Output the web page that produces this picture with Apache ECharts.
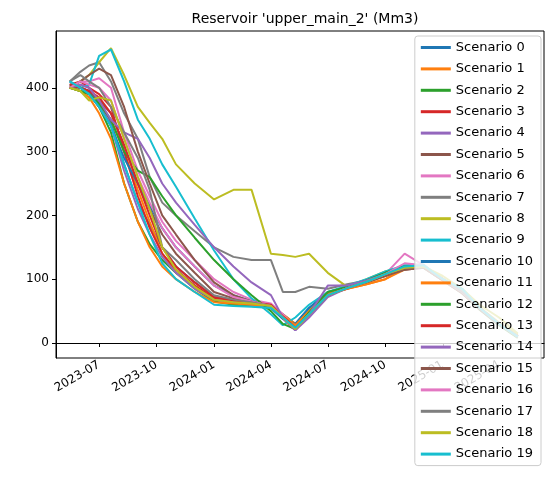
<!DOCTYPE html>
<html><head><meta charset="utf-8">
<script src="https://cdn.jsdelivr.net/npm/echarts@6/dist/echarts.min.js"></script>
<style>html,body{margin:0;padding:0;background:#fff}#c{width:552px;height:478px}</style>
</head><body><div id="c"></div>
<script>
const dates = ["2023-05-15","2023-06-01","2023-06-15","2023-07-01","2023-07-20","2023-08-10","2023-09-01","2023-09-20","2023-10-10","2023-11-01","2023-12-01","2024-01-01","2024-02-01","2024-03-01","2024-04-01","2024-04-20","2024-05-10","2024-06-01","2024-07-01","2024-08-01","2024-09-01","2024-10-01","2024-11-01","2024-12-01","2025-01-01","2025-02-01","2025-03-01","2025-04-01","2025-05-01"];
const s0 = [410,400,395,375,345,280,220,185,150,120,95,72,66,62,58,45,30,55,80,88,98,110,120,120,100,80,55,30,10];
const s1 = [405,400,390,370,350,300,240,190,140,110,90,68,64,62,60,45,30,50,78,85,92,100,115,120,100,80,55,30,10];
const s2 = [400,395,390,370,330,250,190,155,130,110,85,65,60,58,55,40,25,50,78,88,98,110,120,118,98,78,52,28,8];
const s3 = [405,410,400,390,370,300,230,180,140,115,90,70,66,62,58,42,24,45,75,85,95,108,118,120,100,80,55,30,12];
const s4 = [400,405,400,380,340,270,210,170,135,110,85,68,64,60,55,38,20,40,72,86,97,108,118,119,99,79,54,30,11];
const s5 = [400,400,395,380,360,310,250,210,170,140,110,80,70,64,58,40,22,45,75,86,95,105,115,118,98,78,53,29,10];
const s6 = [400,410,410,415,400,330,270,230,190,160,130,100,80,68,62,45,25,45,75,86,96,108,140,122,100,80,55,30,10];
const s7 = [410,425,435,440,410,360,320,260,220,200,175,150,135,130,130,80,80,88,85,92,98,110,120,120,100,80,55,30,10];
const s8 = [400,410,420,440,462,420,370,345,320,280,250,225,240,240,140,138,135,140,110,88,100,112,120,121,101,81,56,32,14];
const s9 = [410,400,405,450,460,410,350,320,280,245,195,145,100,70,45,28,40,60,80,90,100,112,122,123,100,85,55,30,10];
const s10 = [405,400,390,370,340,290,250,215,180,150,120,90,75,65,55,38,30,55,78,88,98,110,120,120,100,80,55,30,10];
const s11 = [400,395,385,360,320,250,190,150,120,100,80,64,62,60,58,42,28,50,78,85,92,100,118,120,100,80,55,30,10];
const s12 = [400,395,390,375,350,300,270,260,230,200,165,130,100,75,50,30,22,48,80,88,98,110,120,120,100,80,55,30,10];
const s13 = [405,400,395,385,360,310,250,200,150,120,95,72,68,64,60,42,24,45,75,86,96,108,118,120,100,80,55,30,10];
const s14 = [400,405,400,380,350,330,320,290,250,220,185,150,120,95,75,40,20,45,90,90,98,108,118,120,100,80,55,30,10];
const s15 = [400,410,420,430,420,370,300,250,200,170,130,95,75,65,58,40,22,45,75,86,95,105,115,118,98,78,53,29,10];
const s16 = [400,410,405,400,380,320,260,220,180,150,120,90,72,65,58,40,22,45,75,86,96,108,125,122,100,80,55,30,10];
const s17 = [410,420,410,400,370,330,290,240,150,130,100,75,68,64,58,40,22,45,75,86,96,108,118,120,100,80,55,30,10];
const s18 = [400,395,380,385,380,320,260,210,150,115,88,68,64,62,58,40,22,45,75,86,96,108,118,120,105,85,60,40,15];
const s19 = [410,400,390,370,340,280,220,170,125,100,80,60,58,57,55,40,24,45,75,86,96,108,120,122,100,85,55,30,10];
const seriesValues = [s0,s1,s2,s3,s4,s5,s6,s7,s8,s9,s10,s11,s12,s13,s14,s15,s16,s17,s18,s19];
const xTicks = ["2023-07-01","2023-10-01","2024-01-01","2024-04-01","2024-07-01","2024-10-01","2025-01-01","2025-04-01"];
const yTicks = [0,100,200,300,400];
const colors = ['#1f77b4','#ff7f0e','#2ca02c','#d62728','#9467bd','#8c564b','#e377c2','#7f7f7f','#bcbd22','#17becf'];
const ts = s => new Date(s+"T00:00:00Z").getTime();
const chart = echarts.init(document.getElementById('c'));
const font = 'DejaVu Sans';
chart.setOption({
  animation:false,
  title:{text:"Reservoir 'upper_main_2' (Mm3)",left:300,top:7,textAlign:'center',textStyle:{fontFamily:font,fontSize:14,fontWeight:'normal',color:'#000'}},
  grid:{left:56,right:8,top:31,bottom:120,show:true,borderColor:'#000',borderWidth:1,backgroundColor:'transparent'},
  xAxis:{type:'value',min:ts("2023-04-23"),max:ts("2025-06-12"),
    axisLine:{show:true,lineStyle:{color:'#000'}},splitLine:{show:false},
    axisTick:{show:true,length:4,customValues:xTicks.map(ts),lineStyle:{color:'#000'}},
    axisLabel:{rotate:30,customValues:xTicks.map(ts),fontFamily:font,fontSize:12,color:'#000',margin:6,
      formatter:v=>{const d=new Date(v);return d.getUTCFullYear()+'-'+String(d.getUTCMonth()+1).padStart(2,'0');}}},
  yAxis:{type:'value',min:-23.5,max:489,
    axisLine:{show:true,lineStyle:{color:'#000'}},splitLine:{show:false},
    axisTick:{show:true,length:4,customValues:yTicks,lineStyle:{color:'#000'}},
    axisLabel:{customValues:yTicks,fontFamily:font,fontSize:12,color:'#000',margin:7}},
  legend:{orient:'vertical',right:11,top:36,itemWidth:30,itemHeight:3,itemGap:8.4,
    backgroundColor:'rgba(255,255,255,0.8)',borderColor:'#ccc',borderWidth:1,borderRadius:3,padding:[5,8,5,6],
    textStyle:{fontFamily:font,fontSize:13,color:'#000'},icon:'rect'},
  series:seriesValues.map((v,i)=>({name:'Scenario '+i,type:'line',showSymbol:false,symbol:'none',
    data:dates.map((d,j)=>[ts(d),v[j]]),lineStyle:{width:2,color:colors[i%10]},itemStyle:{color:colors[i%10]},z:2}))
});
</script></body></html>
